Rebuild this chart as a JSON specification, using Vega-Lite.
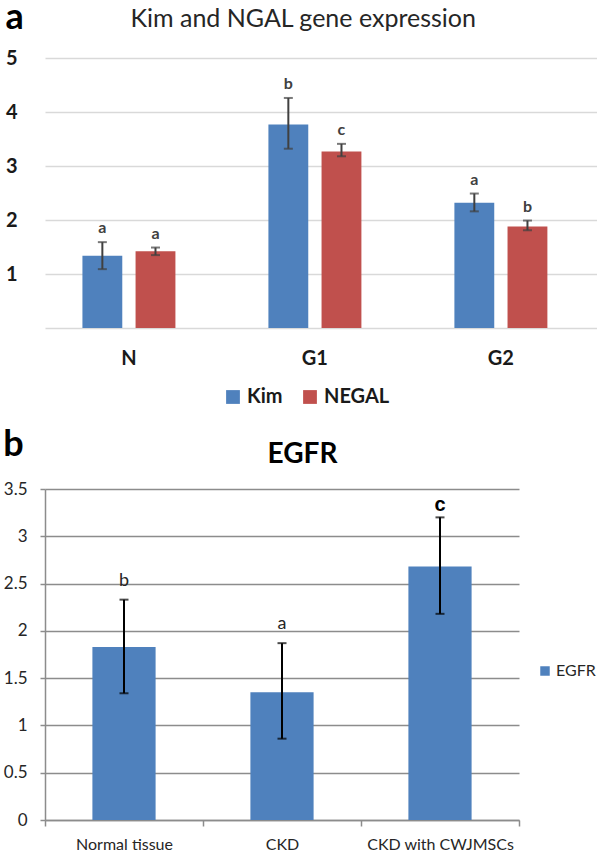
{
  "$schema": "https://vega.github.io/schema/vega-lite/v6.json",
  "background": "white",
  "padding": {"left": 3, "top": 0, "right": 0, "bottom": 0},
  "config": {"font": "Lato", "view": {"stroke": null}},
  "spacing": 20,
  "align": "none",
  "resolve": {"scale": {"color": "independent"}, "legend": {"color": "independent"}},
  "vconcat": [
    {
      "title": {"text": "a", "anchor": "start", "fontSize": 36, "fontWeight": "bold", "color": "black", "offset": -30},
      "vconcat": [
        {
          "width": 552,
          "height": 270,
          "title": {"text": "Kim and NGAL gene expression", "fontSize": 25, "fontWeight": "normal", "color": "#262626", "anchor": "middle", "frame": "bounds", "offset": 16, "dx": 2},
          "data": {"values": [
            {"group": "N", "gene": "Kim", "mean": 1.34, "lo": 1.09, "hi": 1.59, "letter": "a"},
            {"group": "N", "gene": "NEGAL", "mean": 1.42, "lo": 1.35, "hi": 1.49, "letter": "a"},
            {"group": "G1", "gene": "Kim", "mean": 3.77, "lo": 3.32, "hi": 4.26, "letter": "b"},
            {"group": "G1", "gene": "NEGAL", "mean": 3.27, "lo": 3.18, "hi": 3.41, "letter": "c"},
            {"group": "G2", "gene": "Kim", "mean": 2.32, "lo": 2.16, "hi": 2.49, "letter": "a"},
            {"group": "G2", "gene": "NEGAL", "mean": 1.88, "lo": 1.81, "hi": 1.99, "letter": "b"}
          ]},
          "encoding": {
            "x": {"field": "group", "type": "nominal", "sort": ["N", "G1", "G2"],
              "scale": {"paddingInner": 0.5, "paddingOuter": 0.234, "align": 0.43},
              "axis": {"title": null, "labelAngle": 0, "labelFontSize": 20, "labelFontWeight": "bold", "labelColor": "#1a1a1a", "ticks": false, "domain": false, "labelPadding": 20}},
            "xOffset": {"field": "gene", "type": "nominal", "sort": ["Kim", "NEGAL"], "scale": {"paddingInner": 0.25, "paddingOuter": 0}}
          },
          "layer": [
            {
              "mark": {"type": "bar"},
              "encoding": {
                "y": {"field": "mean", "type": "quantitative", "scale": {"domain": [0, 5]},
                  "axis": {"title": null, "values": [0, 1, 2, 3, 4, 5], "labelExpr": "datum.value == 0 ? '' : datum.label", "domain": false, "ticks": false, "minExtent": 0, "labelPadding": 28, "labelFontSize": 20, "labelFontWeight": "bold", "labelColor": "#1a1a1a", "gridColor": "#d9d9d9", "gridWidth": 1.5}},
                "color": {"field": "gene", "type": "nominal", "scale": {"domain": ["Kim", "NEGAL"], "range": ["#4F81BD", "#C0504D"]},
                  "legend": {"orient": "none", "legendX": 178, "legendY": 329, "direction": "horizontal", "title": null, "symbolType": "square", "symbolSize": 190, "symbolStrokeWidth": 0, "labelFontSize": 20, "labelFontWeight": "bold", "labelColor": "#1a1a1a", "labelOffset": 4, "columnPadding": 17}}
              }
            },
            {
              "mark": {"type": "rule", "strokeWidth": 2, "color": "#404040"},
              "encoding": {"y": {"field": "lo", "type": "quantitative"}, "y2": {"field": "hi"}}
            },
            {
              "mark": {"type": "tick", "thickness": 2, "size": 9, "color": "#404040"},
              "encoding": {"y": {"field": "hi", "type": "quantitative"}}
            },
            {
              "mark": {"type": "tick", "thickness": 2, "size": 9, "color": "#404040"},
              "encoding": {"y": {"field": "lo", "type": "quantitative"}}
            },
            {
              "mark": {"type": "text", "baseline": "alphabetic", "dy": -9, "fontSize": 16, "fontWeight": "bold", "color": "#404040"},
              "encoding": {"y": {"field": "hi", "type": "quantitative"}, "text": {"field": "letter"}}
            }
          ]
        }
      ]
    },
    {
      "title": {"text": "b", "anchor": "start", "fontSize": 36, "fontWeight": "bold", "color": "black", "offset": -23},
      "vconcat": [
        {
          "width": 474,
          "height": 331,
          "title": {"text": "EGFR", "fontSize": 28, "fontWeight": "bold", "color": "black", "anchor": "middle", "frame": "bounds", "offset": 11, "dx": 41},
          "data": {"values": [
            {"group": "Normal tissue", "series": "EGFR", "mean": 1.83, "lo": 1.34, "hi": 2.33, "letter": "b"},
            {"group": "CKD", "series": "EGFR", "mean": 1.35, "lo": 0.86, "hi": 1.87, "letter": "a"},
            {"group": "CKD with CWJMSCs", "series": "EGFR", "mean": 2.68, "lo": 2.18, "hi": 3.2, "letter": "c"}
          ]},
          "encoding": {
            "x": {"field": "group", "type": "nominal", "sort": ["Normal tissue", "CKD", "CKD with CWJMSCs"],
              "scale": {"paddingInner": 0, "paddingOuter": 0},
              "axis": {"title": null, "labelAngle": 0, "labelFontSize": 16, "labelColor": "#262626", "tickBand": "extent", "tickSize": 6, "tickColor": "#8c8c8c", "tickWidth": 1.5, "domainColor": "#8c8c8c", "domainWidth": 1.5, "labelPadding": 10}}
          },
          "layer": [
            {
              "mark": {"type": "bar", "width": {"band": 0.4}},
              "encoding": {
                "y": {"field": "mean", "type": "quantitative", "scale": {"domain": [0, 3.5]},
                  "axis": {"title": null, "values": [0, 0.5, 1, 1.5, 2, 2.5, 3, 3.5], "format": "~g", "labelFontSize": 17, "labelColor": "#262626", "tickSize": 5, "tickColor": "#8c8c8c", "tickWidth": 1.5, "domainColor": "#8c8c8c", "domainWidth": 1.5, "gridColor": "#8c8c8c", "gridWidth": 1.5, "labelPadding": 13}},
                "color": {"field": "series", "type": "nominal", "scale": {"domain": ["EGFR"], "range": ["#4F81BD"]},
                  "legend": {"orient": "none", "legendX": 492, "legendY": 174, "title": null, "symbolType": "square", "symbolSize": 90, "symbolStrokeWidth": 0, "labelFontSize": 16, "labelOffset": 3, "labelColor": "#262626"}}
              }
            },
            {
              "mark": {"type": "rule", "strokeWidth": 2, "color": "black"},
              "encoding": {"y": {"field": "lo", "type": "quantitative"}, "y2": {"field": "hi"}}
            },
            {
              "mark": {"type": "tick", "thickness": 2, "size": 9, "color": "black"},
              "encoding": {"y": {"field": "hi", "type": "quantitative"}}
            },
            {
              "mark": {"type": "tick", "thickness": 2, "size": 9, "color": "black"},
              "encoding": {"y": {"field": "lo", "type": "quantitative"}}
            },
            {
              "transform": [{"filter": "datum.letter != 'c'"}],
              "mark": {"type": "text", "baseline": "alphabetic", "dy": -14, "fontSize": 18, "color": "#262626"},
              "encoding": {"y": {"field": "hi", "type": "quantitative"}, "text": {"field": "letter"}}
            },
            {
              "transform": [{"filter": "datum.letter == 'c'"}],
              "mark": {"type": "text", "baseline": "alphabetic", "dy": -6, "fontSize": 20, "fontWeight": "bold", "font": "Liberation Sans", "color": "black"},
              "encoding": {"y": {"field": "hi", "type": "quantitative"}, "text": {"field": "letter"}}
            }
          ]
        }
      ]
    }
  ]
}
